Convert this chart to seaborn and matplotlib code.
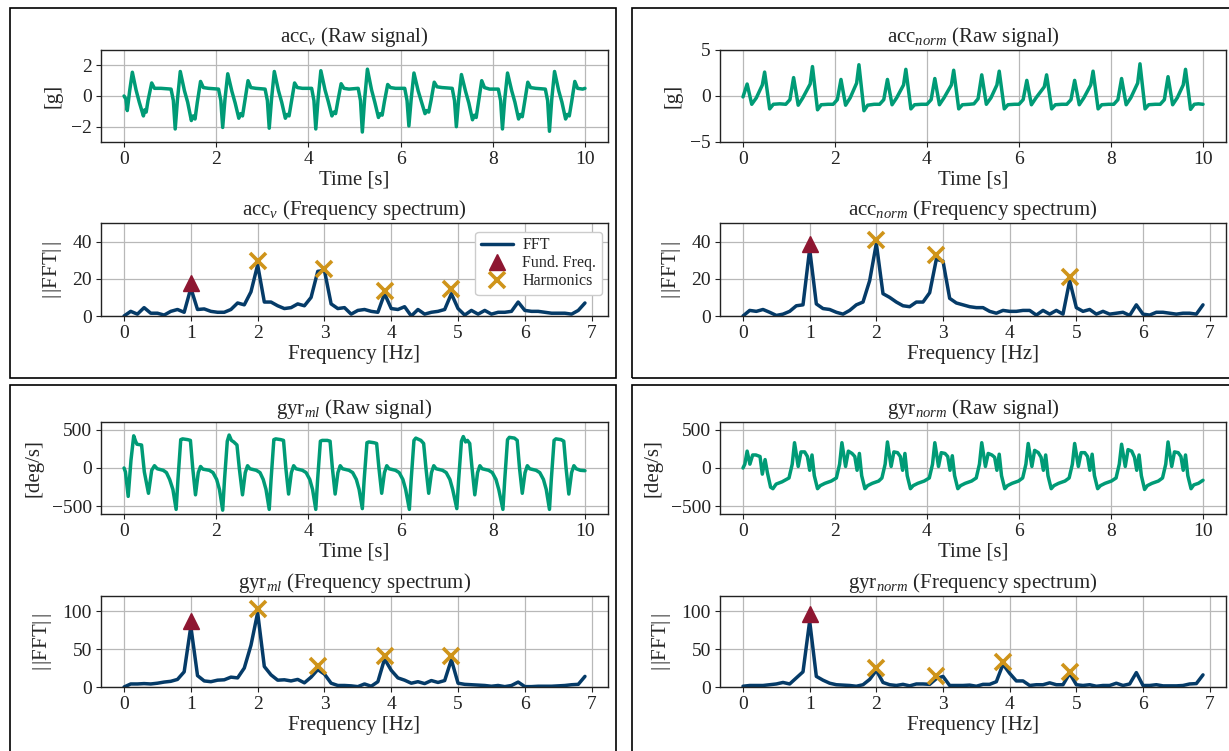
import matplotlib
matplotlib.use("Agg")
import matplotlib.pyplot as plt
from matplotlib.patches import Rectangle
import numpy as np
import pandas as pd
import seaborn as sns

# ---------------- data ----------------
freq = [round(0.1 * i, 1) for i in range(70)]

acc_v_t = [0.00, 0.04, 0.07, 0.12, 0.18, 0.26, 0.33, 0.42, 0.45, 0.48, 0.52, 0.60, 0.66, 0.80,
           1.02, 1.07, 1.11, 1.16, 1.22, 1.31, 1.38, 1.46, 1.50, 1.54, 1.59, 1.66, 1.72, 1.83,
           2.05, 2.10, 2.14, 2.19, 2.25, 2.34, 2.41, 2.49, 2.53, 2.57, 2.62, 2.69, 2.75, 2.86,
           3.06, 3.11, 3.15, 3.20, 3.26, 3.35, 3.42, 3.50, 3.54, 3.58, 3.63, 3.70, 3.76, 3.87,
           4.07, 4.12, 4.16, 4.21, 4.27, 4.36, 4.43, 4.51, 4.55, 4.59, 4.64, 4.71, 4.77, 4.88,
           5.08, 5.13, 5.17, 5.22, 5.28, 5.37, 5.44, 5.52, 5.56, 5.60, 5.65, 5.72, 5.78, 5.89,
           6.09, 6.14, 6.18, 6.23, 6.29, 6.38, 6.45, 6.53, 6.57, 6.61, 6.66, 6.73, 6.79, 6.90,
           7.12, 7.17, 7.21, 7.26, 7.32, 7.41, 7.48, 7.56, 7.60, 7.64, 7.69, 7.76, 7.82, 7.93,
           8.12, 8.17, 8.21, 8.26, 8.32, 8.41, 8.48, 8.56, 8.60, 8.64, 8.69, 8.76, 8.82, 8.93,
           9.14, 9.19, 9.23, 9.28, 9.34, 9.43, 9.50, 9.58, 9.62, 9.66, 9.71, 9.78, 9.84, 9.95, 10.0]
acc_v_y = [0.0, -0.2, -0.95, 0.3, 1.55, 0.4, -0.4, -1.3, -0.9, -1.05, -0.3, 0.85, 0.5, 0.5,
           0.45, -0.3, -2.15, -0.2, 1.6, 0.35, -0.4, -1.6, -1.3, -1.5, -0.4, 0.95, 0.55, 0.5,
           0.45, -0.3, -2.05, -0.2, 1.45, 0.3, -0.45, -1.45, -1.15, -1.3, -0.35, 1.0, 0.55, 0.5,
           0.45, -0.3, -2.1, -0.2, 1.6, 0.35, -0.4, -1.45, -1.2, -1.3, -0.4, 0.85, 0.55, 0.5,
           0.5, -0.3, -2.15, -0.2, 1.65, 0.4, -0.35, -1.3, -1.05, -1.15, -0.3, 0.8, 0.5, 0.45,
           0.5, -0.3, -2.35, -0.2, 1.75, 0.4, -0.4, -1.4, -1.15, -1.25, -0.35, 0.75, 0.55, 0.5,
           0.5, -0.3, -1.95, -0.2, 1.5, 0.35, -0.35, -1.15, -0.95, -1.05, -0.3, 0.9, 0.6, 0.55,
           0.5, -0.3, -2.0, -0.2, 1.4, 0.3, -0.45, -1.55, -1.25, -1.4, -0.4, 1.0, 0.55, 0.45,
           0.45, -0.3, -2.15, -0.2, 1.5, 0.35, -0.4, -1.5, -1.2, -1.35, -0.4, 0.9, 0.55, 0.5,
           0.45, -0.3, -2.3, -0.2, 1.6, 0.35, -0.4, -1.5, -1.2, -1.3, -0.4, 0.95, 0.5, 0.45, 0.5]

acc_norm_t = [0.00, 0.09, 0.19, 0.29, 0.42, 0.47, 0.58, 0.66, 0.80,
              0.93, 1.02, 1.10, 1.20, 1.30, 1.46, 1.51, 1.62, 1.70, 1.85,
              1.96, 2.05, 2.13, 2.23, 2.33, 2.47, 2.52, 2.63, 2.71, 2.85,
              2.97, 3.06, 3.14, 3.24, 3.34, 3.49, 3.54, 3.65, 3.73, 3.88,
              4.00, 4.09, 4.17, 4.27, 4.37, 4.53, 4.58, 4.69, 4.77, 4.92,
              5.02, 5.11, 5.19, 5.29, 5.39, 5.52, 5.57, 5.68, 5.76, 5.90,
              6.00, 6.09, 6.17, 6.27, 6.37, 6.55, 6.60, 6.71, 6.79, 6.93,
              7.04, 7.13, 7.21, 7.31, 7.41, 7.56, 7.61, 7.72, 7.80, 7.95,
              8.06, 8.15, 8.23, 8.33, 8.43, 8.58, 8.63, 8.74, 8.82, 8.96,
              9.07, 9.16, 9.24, 9.34, 9.44, 9.57, 9.62, 9.73, 9.81, 9.90, 10.0]
acc_norm_y = [-0.1, 1.3, -0.9, -0.2, 1.2, 2.6, -1.4, -0.9, -0.85,
              -0.9, -0.4, 2.0, -1.0, -0.2, 1.3, 3.2, -1.5, -0.95, -0.9,
              -0.9, -0.4, 1.8, -1.0, -0.2, 1.4, 3.4, -1.6, -1.0, -0.9,
              -0.9, -0.4, 1.8, -0.95, -0.2, 1.2, 2.9, -1.4, -0.95, -0.9,
              -0.9, -0.4, 1.9, -0.95, -0.2, 1.2, 2.8, -1.4, -0.95, -0.9,
              -0.85, -0.3, 2.3, -0.9, -0.2, 1.2, 2.7, -1.4, -0.95, -0.9,
              -0.9, -0.4, 1.7, -0.95, -0.2, 1.0, 2.3, -1.4, -0.95, -0.9,
              -0.9, -0.4, 1.7, -0.95, -0.2, 1.2, 2.7, -1.4, -0.95, -0.9,
              -0.9, -0.4, 1.9, -0.95, -0.2, 1.4, 3.5, -1.4, -0.95, -0.9,
              -0.9, -0.4, 2.1, -0.95, -0.2, 1.2, 2.9, -1.45, -0.9, -0.85, -0.9]

gyr_ml_t = [0.00, 0.03, 0.09, 0.15, 0.21, 0.25, 0.28, 0.38, 0.44, 0.53, 0.60, 0.66, 0.72, 0.85, 0.92, 0.99, 1.06,
            1.13, 1.17, 1.23, 1.27, 1.38, 1.44, 1.49, 1.55, 1.61, 1.66, 1.71, 1.85, 1.93, 2.01, 2.07,
            2.14, 2.18, 2.24, 2.28, 2.33, 2.38, 2.45, 2.50, 2.57, 2.63, 2.68, 2.73, 2.87, 2.95, 3.02, 3.08,
            3.15, 3.19, 3.25, 3.29, 3.40, 3.46, 3.51, 3.57, 3.63, 3.68, 3.73, 3.87, 3.95, 4.03, 4.09,
            4.16, 4.20, 4.26, 4.30, 4.41, 4.47, 4.52, 4.58, 4.64, 4.69, 4.74, 4.88, 4.96, 5.04, 5.10,
            5.17, 5.21, 5.27, 5.31, 5.42, 5.48, 5.53, 5.59, 5.65, 5.70, 5.75, 5.89, 5.97, 6.05, 6.11,
            6.19, 6.23, 6.29, 6.33, 6.44, 6.50, 6.55, 6.61, 6.67, 6.72, 6.77, 6.91, 6.99, 7.07, 7.13,
            7.22, 7.26, 7.32, 7.36, 7.41, 7.45, 7.50, 7.55, 7.61, 7.67, 7.72, 7.77, 7.91, 7.99, 8.07, 8.13,
            8.22, 8.26, 8.32, 8.36, 8.47, 8.53, 8.58, 8.64, 8.70, 8.75, 8.80, 8.94, 9.02, 9.10, 9.16,
            9.23, 9.27, 9.33, 9.37, 9.48, 9.54, 9.59, 9.65, 9.71, 9.76, 9.81, 9.90, 10.0]
gyr_ml_y = [0, -50, -370, 100, 420, 350, 310, 300, -50, -330, -30, 30, -10, -30, -60, -150, -280,
            -540, -150, 370, 380, 370, 360, 0, -350, -60, 20, -15, -30, -60, -150, -280,
            -550, -150, 350, 430, 360, 340, 300, 0, -350, -60, 30, -10, -30, -60, -150, -280,
            -540, -150, 370, 380, 370, 360, 0, -340, -60, 30, -10, -30, -60, -150, -280,
            -540, -150, 350, 360, 360, 350, 0, -340, -60, 30, -10, -30, -60, -150, -280,
            -530, -150, 330, 340, 330, 320, 0, -330, -60, 30, -10, -30, -60, -150, -280,
            -540, -150, 360, 390, 360, 320, 0, -330, -60, 30, -10, -30, -60, -150, -280,
            -530, -150, 350, 410, 340, 360, 320, 0, -350, -60, 30, -10, -30, -60, -150, -280,
            -540, -150, 370, 400, 390, 360, 0, -330, -60, 30, -10, -30, -60, -150, -280,
            -540, -150, 360, 380, 370, 350, 0, -340, -60, 30, -10, -30, -35]

gyr_norm_t = [0.00, 0.04, 0.09, 0.15, 0.21, 0.28, 0.37, 0.42, 0.48, 0.53, 0.60, 0.65, 0.72, 0.85,
              1.00, 1.07, 1.12, 1.20, 1.26, 1.34, 1.40, 1.45, 1.50, 1.55, 1.62, 1.68, 1.78, 1.92,
              2.03, 2.10, 2.15, 2.23, 2.29, 2.37, 2.43, 2.48, 2.53, 2.58, 2.65, 2.71, 2.81, 2.95,
              3.02, 3.09, 3.14, 3.22, 3.28, 3.36, 3.42, 3.47, 3.52, 3.57, 3.64, 3.70, 3.80, 3.94,
              4.05, 4.12, 4.17, 4.25, 4.31, 4.39, 4.45, 4.50, 4.55, 4.60, 4.67, 4.73, 4.83, 4.97,
              5.07, 5.14, 5.19, 5.27, 5.33, 5.41, 5.47, 5.52, 5.57, 5.62, 5.69, 5.75, 5.85, 5.99,
              6.08, 6.15, 6.20, 6.28, 6.34, 6.42, 6.48, 6.53, 6.58, 6.63, 6.70, 6.76, 6.86, 7.00,
              7.09, 7.16, 7.21, 7.29, 7.35, 7.43, 7.49, 7.54, 7.59, 7.64, 7.71, 7.77, 7.87, 8.01,
              8.11, 8.18, 8.23, 8.31, 8.37, 8.45, 8.51, 8.56, 8.61, 8.66, 8.73, 8.79, 8.89, 9.03,
              9.12, 9.19, 9.24, 9.32, 9.38, 9.46, 9.52, 9.57, 9.62, 9.67, 9.74, 9.80, 9.90, 10.0]
gyr_norm_y = [0, 50, 220, 50, 170, 170, 150, -80, 110, -60, -250, -270, -210, -180,
              -130, 50, 330, 20, 210, 210, 150, -30, 170, -100, -270, -230, -200, -170,
              -130, 50, 330, 20, 220, 190, 150, -30, 190, -100, -270, -230, -200, -170,
              -130, 50, 340, 20, 210, 200, 150, -30, 190, -100, -270, -230, -200, -170,
              -130, 50, 330, 20, 200, 190, 150, -30, 160, -100, -270, -230, -200, -170,
              -130, 50, 330, 20, 190, 170, 140, -30, 180, -100, -270, -230, -200, -170,
              -130, 50, 320, 20, 230, 200, 140, -30, 170, -100, -270, -230, -200, -170,
              -130, 50, 320, 20, 200, 200, 150, -30, 180, -100, -270, -230, -200, -170,
              -130, 50, 310, 20, 240, 220, 140, -30, 170, -100, -280, -230, -200, -170,
              -130, 50, 340, 20, 210, 200, 150, -30, 170, -100, -270, -220, -200, -160]

fft_acc_v = [0, 2.5, 1, 4.5, 1.5, 1.5, 0.5, 2.5, 3.5, 2,
             15, 3.5, 3.8, 2.5, 2, 2, 3.5, 7, 6, 13,
             27.5, 7.5, 7.5, 5.5, 4, 4.5, 6.5, 5.5, 10, 24,
             24.5, 6.5, 4, 4.5, 1, 3, 3.5, 2.5, 2, 12,
             4, 3.5, 5, 0, 3.5, 1, 2, 2.5, 3.5, 12,
             4, 0.5, 3, 1, 3, 1, 2, 2, 2.5, 7.5,
             3, 2.5, 2.5, 2, 1.5, 1.5, 1.5, 1, 3, 7]
fft_acc_norm = [0, 3, 2.5, 3.5, 2, 0.3, 1, 2.5, 5.5, 6,
                36, 6.5, 4, 3.5, 2, 1, 3, 6, 7.5, 19,
                39, 12, 10, 7.5, 5.5, 5, 7.5, 7.5, 12.5, 30.5,
                29.5, 9.5, 7, 6, 5, 4.5, 4.5, 2.5, 1.5, 3,
                2.5, 2.5, 3, 3, 0.5, 3, 1, 3, 1, 19,
                4.5, 2.5, 3.5, 1, 2.5, 1, 1.5, 2, 0.3, 6,
                1, 0.5, 2, 2, 1.5, 1, 1.5, 1.5, 1, 6]
fft_gyr_ml = [0, 4, 4, 4.5, 4, 5, 6.5, 7.5, 10, 20,
              80, 15, 8, 7, 9, 9.5, 13, 12, 25, 55,
              98, 27, 16, 9, 9.5, 8, 10, 5.5, 13, 23,
              17, 5, 2, 2, 1.5, 0.5, 4, 1, 7, 37,
              22, 12, 9, 5, 7, 4.5, 8.5, 6, 8.5, 36,
              5, 3.5, 3, 2.5, 2, 1, 2, 0.5, 2, 6.5,
              0.5, 0.5, 1, 1, 1, 1.5, 2, 3, 3.5, 14]
fft_gyr_norm = [1, 2, 2, 2, 3, 4, 6, 4, 12, 20,
                87, 14, 9, 5, 3, 2.5, 2, 1, 3, 10,
                22, 6, 3, 2, 3.5, 1.5, 4, 4, 3.5, 11,
                14, 2, 2, 2, 2.5, 1, 3.5, 3.5, 7, 30,
                18, 8, 8, 2, 3, 3, 5.5, 3, 3, 18,
                3, 2, 3, 1, 2, 2, 5, 2, 4, 19,
                2, 2, 3, 1.5, 1.5, 1.5, 2, 4, 4.5, 16]

fund_f = [1.0, 1.0, 1.0, 1.0]
fund_a = [17.5, 38.5, 87, 96]
harm_f = [[2.0, 3.0, 3.9, 4.9], [2.0, 2.9, 4.9], [2.0, 2.9, 3.9, 4.9], [2.0, 2.9, 3.9, 4.9]]
harm_a = [[29.5, 25.3, 13.6, 14.4], [40.9, 32.9, 20.7], [103.5, 27.6, 41, 40.8], [24.6, 14.5, 33.3, 20]]

names = [r"acc$_{v}$", r"acc$_{norm}$", r"gyr$_{ml}$", r"gyr$_{norm}$"]
units = ["[g]", "[g]", "[deg/s]", "[deg/s]"]
raw_ylims = [(-3, 3), (-5, 5), (-600, 600), (-600, 600)]
raw_yticks = [[-2, 0, 2], [-5, 0, 5], [-500, 0, 500], [-500, 0, 500]]
fft_ylims = [(0, 50), (0, 50), (0, 120), (0, 120)]
fft_yticks = [[0, 20, 40], [0, 20, 40], [0, 50, 100], [0, 50, 100]]

raw_t = [acc_v_t, acc_norm_t, gyr_ml_t, gyr_norm_t]
raw_y = [acc_v_y, acc_norm_y, gyr_ml_y, gyr_norm_y]
ffts = [fft_acc_v, fft_acc_norm, fft_gyr_ml, fft_gyr_norm]

# ---------------- style ----------------
sns.set_theme(style="whitegrid", rc={
    "axes.edgecolor": "#222222",
    "axes.linewidth": 1.0,
    "grid.color": "#b8b8b8",
    "grid.linewidth": 0.9,
    "xtick.bottom": True,
    "ytick.left": True,
    "xtick.color": "#222222",
    "ytick.color": "#222222",
    "xtick.major.size": 3.5,
    "ytick.major.size": 3.5,
    "xtick.major.width": 0.8,
    "ytick.major.width": 0.8,
})
plt.rcParams["font.family"] = ["Liberation Serif", "DejaVu Serif"]
plt.rcParams["mathtext.fontset"] = "custom"
plt.rcParams["mathtext.rm"] = "Liberation Serif"
plt.rcParams["mathtext.it"] = "Liberation Serif:italic"
plt.rcParams["axes.unicode_minus"] = True

GREEN = "#009B76"
BLUE = "#053B68"
RED = "#8E1631"
GOLD = "#CF941A"

W, H = 1229, 751
fig = plt.figure(figsize=(W / 100, H / 100), dpi=100)


def rect(x0, y0, x1, y1):
    return [x0 / W, 1 - y1 / H, (x1 - x0) / W, (y1 - y0) / H]


# panel frames
for (x0, y0, x1, y1) in [(10, 8, 616, 378), (632, 8, 1245, 378), (10, 385, 616, 770), (632, 385, 1245, 770)]:
    fig.patches.append(Rectangle((x0 / W, 1 - y1 / H), (x1 - x0) / W, (y1 - y0) / H,
                                 transform=fig.transFigure, fill=False, edgecolor="black",
                                 linewidth=1.2, clip_on=False))

lefts = [(101, 608), (720, 1226), (101, 608), (720, 1226)]
raw_y_px = [(50, 142), (50, 142), (422, 514), (422, 514)]
fft_y_px = [(223, 316), (223, 316), (596, 687), (596, 687)]

TICK_FS = 14
LAB_FS = 15

for i in range(4):
    xl, xr = lefts[i]
    ax = fig.add_axes(rect(xl, raw_y_px[i][0], xr, raw_y_px[i][1]))
    df = pd.DataFrame({"t": raw_t[i], "v": raw_y[i]})
    sns.lineplot(data=df, x="t", y="v", ax=ax, color=GREEN, linewidth=2.5, estimator=None, sort=False)
    ax.set_xlim(-0.5, 10.5)
    ax.set_ylim(*raw_ylims[i])
    ax.set_xticks([0, 2, 4, 6, 8, 10])
    ax.set_yticks(raw_yticks[i])
    ax.set_xlabel("Time [s]", fontsize=LAB_FS, labelpad=2)
    ax.set_ylabel(units[i], fontsize=LAB_FS, labelpad=6)
    ax.set_title(names[i] + " (Raw signal)", fontsize=LAB_FS, pad=6)
    ax.tick_params(labelsize=TICK_FS, pad=3)

    ax2 = fig.add_axes(rect(xl, fft_y_px[i][0], xr, fft_y_px[i][1]))
    dff = pd.DataFrame({"f": freq, "a": ffts[i]})
    sns.lineplot(data=dff, x="f", y="a", ax=ax2, color=BLUE, linewidth=2.5, estimator=None,
                 sort=False, label="FFT", legend=False)
    ax2.plot([fund_f[i]], [fund_a[i]], linestyle="none", marker="^", markersize=12,
             color=RED, label="Fund. Freq.")
    ax2.plot(harm_f[i], harm_a[i], linestyle="none", marker="x", markersize=11,
             markeredgewidth=2.6, color=GOLD, label="Harmonics")
    ax2.set_xlim(-0.345, 7.245)
    ax2.set_ylim(*fft_ylims[i])
    ax2.set_xticks(range(8))
    ax2.set_yticks(fft_yticks[i])
    ax2.set_xlabel("Frequency [Hz]", fontsize=LAB_FS, labelpad=2)
    ax2.set_ylabel(r"$|\,|$FFT$|\,|$", fontsize=LAB_FS, labelpad=6)
    ax2.set_title(names[i] + " (Frequency spectrum)", fontsize=LAB_FS, pad=6)
    ax2.tick_params(labelsize=TICK_FS, pad=3)
    if i == 0:
        ax2.legend(loc="upper right", prop={"size": 11.5}, handlelength=2.0, labelspacing=0.12,
                   borderpad=0.35, handletextpad=0.6, framealpha=1.0, edgecolor="#cccccc",
                   borderaxespad=0.0, bbox_to_anchor=(0.988, 0.905))
    else:
        lg = ax2.get_legend()
        if lg is not None:
            lg.remove()

fig.savefig("out.png", dpi=100)
